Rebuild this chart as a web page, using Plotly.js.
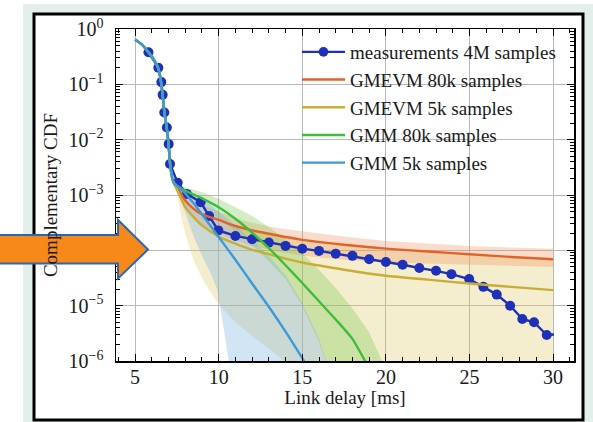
<!DOCTYPE html>
<html>
<head>
<meta charset="utf-8">
<script src="https://cdn.plot.ly/plotly-3.0.1.min.js"></script>
<style>html,body{margin:0;padding:0;background:#fff;}#chart{width:593px;height:422px;}</style>
</head>
<body>
<div id="chart"></div>
<script>
// ---- data (y values given as log10 of the complementary CDF) ----
const measX = [5.8, 6.39, 6.57, 6.65, 6.75, 6.9, 7.01, 7.09, 7.55, 8.09, 8.92, 9.43, 9.98, 11.0, 12.0, 13.0, 14.0, 15.0, 16.0, 17.0, 18.0, 19.0, 20.0, 21.0, 22.0, 23.0, 23.92, 24.98, 25.83, 26.63, 27.43, 28.16, 28.86, 29.62, 30.05];
const measLog = [-0.42, -0.70, -0.96, -1.19, -1.51, -1.78, -2.08, -2.44, -2.78, -2.98, -3.13, -3.38, -3.64, -3.74, -3.80, -3.86, -3.92, -3.97, -4.01, -4.06, -4.10, -4.16, -4.21, -4.26, -4.32, -4.37, -4.43, -4.52, -4.66, -4.80, -5.00, -5.24, -5.30, -5.53, -5.52];

// shared body of all fitted models
const bodyX = [5.0, 5.4, 5.8, 6.1, 6.4, 6.55, 6.65, 6.75, 6.9, 7.0, 7.1, 7.2, 7.3];
const bodyLog = [-0.19, -0.28, -0.42, -0.54, -0.72, -0.95, -1.2, -1.5, -1.8, -2.08, -2.45, -2.66, -2.77];

// GMEVM 80k
const gmevm80X = [7.5, 8, 8.5, 9, 10, 11, 12, 13, 14, 15, 17.5, 20, 22.5, 25, 27.5, 30];
const gmevm80Log = [-2.85, -3.1, -3.25, -3.35, -3.45, -3.56, -3.64, -3.70, -3.76, -3.81, -3.9, -3.97, -4.02, -4.07, -4.12, -4.16];
const gmevm80Up = [-2.82, -2.98, -3.1, -3.18, -3.3, -3.42, -3.5, -3.57, -3.62, -3.66, -3.75, -3.83, -3.88, -3.92, -3.95, -3.97];
const gmevm80Lo = [-2.9, -3.25, -3.42, -3.55, -3.7, -3.82, -3.92, -3.99, -4.05, -4.1, -4.17, -4.22, -4.25, -4.27, -4.28, -4.3];

// GMEVM 5k
const gmevm5X = [7.5, 8, 8.5, 9, 10, 11, 12, 13, 14, 15, 17.5, 20, 22.5, 25, 27.5, 30];
const gmevm5Log = [-2.9, -3.22, -3.4, -3.55, -3.75, -3.88, -3.99, -4.07, -4.15, -4.22, -4.35, -4.46, -4.53, -4.6, -4.66, -4.72];
const gmevm5Up = [-2.85, -3.05, -3.2, -3.3, -3.45, -3.55, -3.64, -3.71, -3.77, -3.82, -3.92, -3.99, -4.04, -4.09, -4.14, -4.18];
const gmevm5LoX = [7.5, 7.7, 8, 8.5, 9, 9.5, 10, 11, 12, 13, 14, 15, 16, 30];
const gmevm5Lo = [-2.95, -3.3, -3.7, -4.18, -4.5, -4.75, -4.98, -5.3, -5.55, -5.78, -6.02, -6.5, -7, -7];

// GMM 80k
const gmm80X = [7.5, 8, 9, 10, 11, 12, 13, 14, 15, 16, 17, 18, 18.7, 19.3];
const gmm80Log = [-2.83, -2.92, -3.06, -3.22, -3.43, -3.68, -3.96, -4.27, -4.59, -4.92, -5.25, -5.6, -5.97, -6.3];
const gmm80UpX = [7.5, 8, 9, 10, 11, 12, 13, 14, 15, 16, 17, 18, 19, 19.7, 20.3];
const gmm80Up = [-2.8, -2.86, -2.95, -3.07, -3.22, -3.38, -3.58, -3.8, -4.05, -4.35, -4.68, -5.05, -5.48, -5.95, -6.4];
const gmm80LoX = [7.5, 8, 9, 10, 11, 12, 13, 14, 15, 16, 16.4, 17];
const gmm80Lo = [-2.86, -2.98, -3.2, -3.42, -3.65, -3.9, -4.2, -4.52, -5.0, -5.65, -6.0, -6.5];

// GMM 5k
const gmm5X = [7.5, 8, 8.5, 9, 9.5, 10, 11, 12, 13, 14, 15, 15.6];
const gmm5Log = [-2.83, -2.97, -3.15, -3.35, -3.55, -3.76, -4.17, -4.6, -5.02, -5.47, -5.95, -6.25];
const gmm5UpX = [7.5, 8, 9, 10, 11, 12, 13, 14, 15, 16, 16.4, 17];
const gmm5Up = [-2.8, -2.88, -3.05, -3.3, -3.55, -3.82, -4.1, -4.45, -4.95, -5.6, -5.97, -6.5];
const gmm5LoX = [7.5, 8, 8.5, 9, 9.5, 9.9, 10.1, 10.4, 10.6, 11];
const gmm5Lo = [-2.88, -3.3, -3.75, -4.1, -4.4, -4.7, -5.1, -5.6, -6.0, -6.6];

const seriesNames = ['measurements 4M samples', 'GMEVM 80k samples', 'GMEVM 5k samples', 'GMM 80k samples', 'GMM 5k samples'];
const xTickVals = [5, 10, 15, 20, 25, 30];
const yTickVals = [1e-6, 1e-5, 1e-4, 1e-3, 1e-2, 1e-1, 1];
const yTickText = ['10<sup>\u22126</sup>', '10<sup>\u22125</sup>', '10<sup>\u22124</sup>', '10<sup>\u22123</sup>', '10<sup>\u22122</sup>', '10<sup>\u22121</sup>', '10<sup>0</sup>'];

// ---- styling ----
const FONT = '"Liberation Serif", "Times New Roman", Times, serif';
const colors = {
  meas: '#1f30b8',
  g80: '#e2622a',
  g5: '#c9ad36',
  m80: '#3fbd3c',
  m5: '#3c9ad9'
};
const fills = {
  g80: 'rgba(235,138,85,0.30)',
  g5: 'rgba(222,200,92,0.30)',
  m80: 'rgba(110,200,70,0.30)',
  m5: 'rgba(115,175,222,0.33)'
};
const pw = v => Math.pow(10, v);

function band(xu, yu, xl, yl, fc) {
  return {
    x: xu.concat(xl.slice().reverse()),
    y: yu.concat(yl.slice().reverse()).map(pw),
    mode: 'lines', fill: 'toself', fillcolor: fc,
    line: {width: 0, color: 'rgba(0,0,0,0)'},
    hoverinfo: 'skip', showlegend: false
  };
}
function model(tx, ty, name, col) {
  return {
    x: bodyX.concat(tx), y: bodyLog.concat(ty).map(pw),
    mode: 'lines', name: name, line: {color: col, width: 2.4, shape: 'spline', smoothing: 0.6}
  };
}

const traces = [
  band(gmevm5X, gmevm5Up, gmevm5LoX, gmevm5Lo, fills.g5),
  band(gmevm80X, gmevm80Up, gmevm80X, gmevm80Lo, fills.g80),
  band(gmm80UpX, gmm80Up, gmm80LoX, gmm80Lo, fills.m80),
  band(gmm5UpX, gmm5Up, gmm5LoX, gmm5Lo, fills.m5),
  {
    x: measX, y: measLog.map(pw), mode: 'lines+markers', name: seriesNames[0],
    line: {color: colors.meas, width: 2.4},
    marker: {color: colors.meas, opacity: 1, line: {width: 0},
             size: measX.map((v, i) => i === measX.length - 1 ? 0 : 10)}
  },
  model(gmevm80X, gmevm80Log, seriesNames[1], colors.g80),
  model(gmevm5X, gmevm5Log, seriesNames[2], colors.g5),
  model(gmm80X, gmm80Log, seriesNames[3], colors.m80),
  model(gmm5X, gmm5Log, seriesNames[4], colors.m5)
];

// plot area: left 116, right 574, top 29, bottom 361 (px)
const L = 116, R = 574, T = 29, B = 361;
const px = v => (v - L) / (R - L);
const py = v => (B - v) / (B - T);

const arrowPts = [[-5, 235], [118, 235], [118, 220], [148, 249.5], [118, 278.5], [118, 263.5], [-5, 263.5]];
const arrowPath = 'M' + arrowPts.map(p => px(p[0]).toFixed(4) + ',' + py(p[1]).toFixed(4)).join(' L') + ' Z';

const axisCommon = {
  ticks: 'inside', ticklen: 7, tickwidth: 1, tickcolor: '#000',
  showline: true, linecolor: '#000', linewidth: 1.5, mirror: 'allticks',
  showgrid: true, gridcolor: '#b9b9b9', gridwidth: 1, zeroline: false,
  tickfont: {family: FONT, size: 20, color: '#1a1a1a'}
};

const layout = {
  width: 593, height: 422,
  margin: {l: L, r: 593 - R, t: T, b: 422 - B, pad: 0},
  paper_bgcolor: '#ffffff', plot_bgcolor: 'rgba(0,0,0,0)',
  font: {family: FONT, size: 19, color: '#1a1a1a'},
  showlegend: true,
  legend: {
    x: px(297), y: py(33), xanchor: 'left', yanchor: 'top',
    bgcolor: 'rgba(0,0,0,0)', borderwidth: 0,
    font: {family: FONT, size: 19, color: '#1a1a1a'},
    itemwidth: 43
  },
  xaxis: Object.assign({}, axisCommon, {
    range: [3.86, 31.25], tickmode: 'array', tickvals: xTickVals,
    ticklabelstandoff: -3,
    minor: {ticks: 'inside', ticklen: 4, dtick: 1, tick0: 0, tickcolor: '#000', showgrid: false},
    title: {text: 'Link delay [ms]', standoff: 0, font: {family: FONT, size: 19}}
  }),
  yaxis: Object.assign({}, axisCommon, {
    type: 'log', range: [-6, 0], tickmode: 'array', tickvals: yTickVals, ticktext: yTickText,
    ticklabelstandoff: 7,
    minor: {ticks: 'inside', ticklen: 4, dtick: 'D1', tickcolor: '#000', showgrid: false},
    title: {text: 'Complementary CDF', standoff: 6, font: {family: FONT, size: 19}}
  }),
  shapes: [
    {type: 'rect', xref: 'paper', yref: 'paper', layer: 'below',
     x0: px(23), x1: px(593), y0: py(440), y1: py(4), fillcolor: '#e2efeb', line: {width: 0}},
    {type: 'rect', xref: 'paper', yref: 'paper', layer: 'below',
     x0: px(34), x1: px(583), y0: py(420), y1: py(14), fillcolor: '#ffffff', line: {width: 3, color: '#000'}},
    {type: 'path', xref: 'paper', yref: 'paper', layer: 'above', path: arrowPath,
     fillcolor: '#f7881a', line: {color: '#2a68b0', width: 2}}
  ]
};

Plotly.newPlot('chart', traces, layout, {displayModeBar: false, staticPlot: true});
</script>
</body>
</html>
